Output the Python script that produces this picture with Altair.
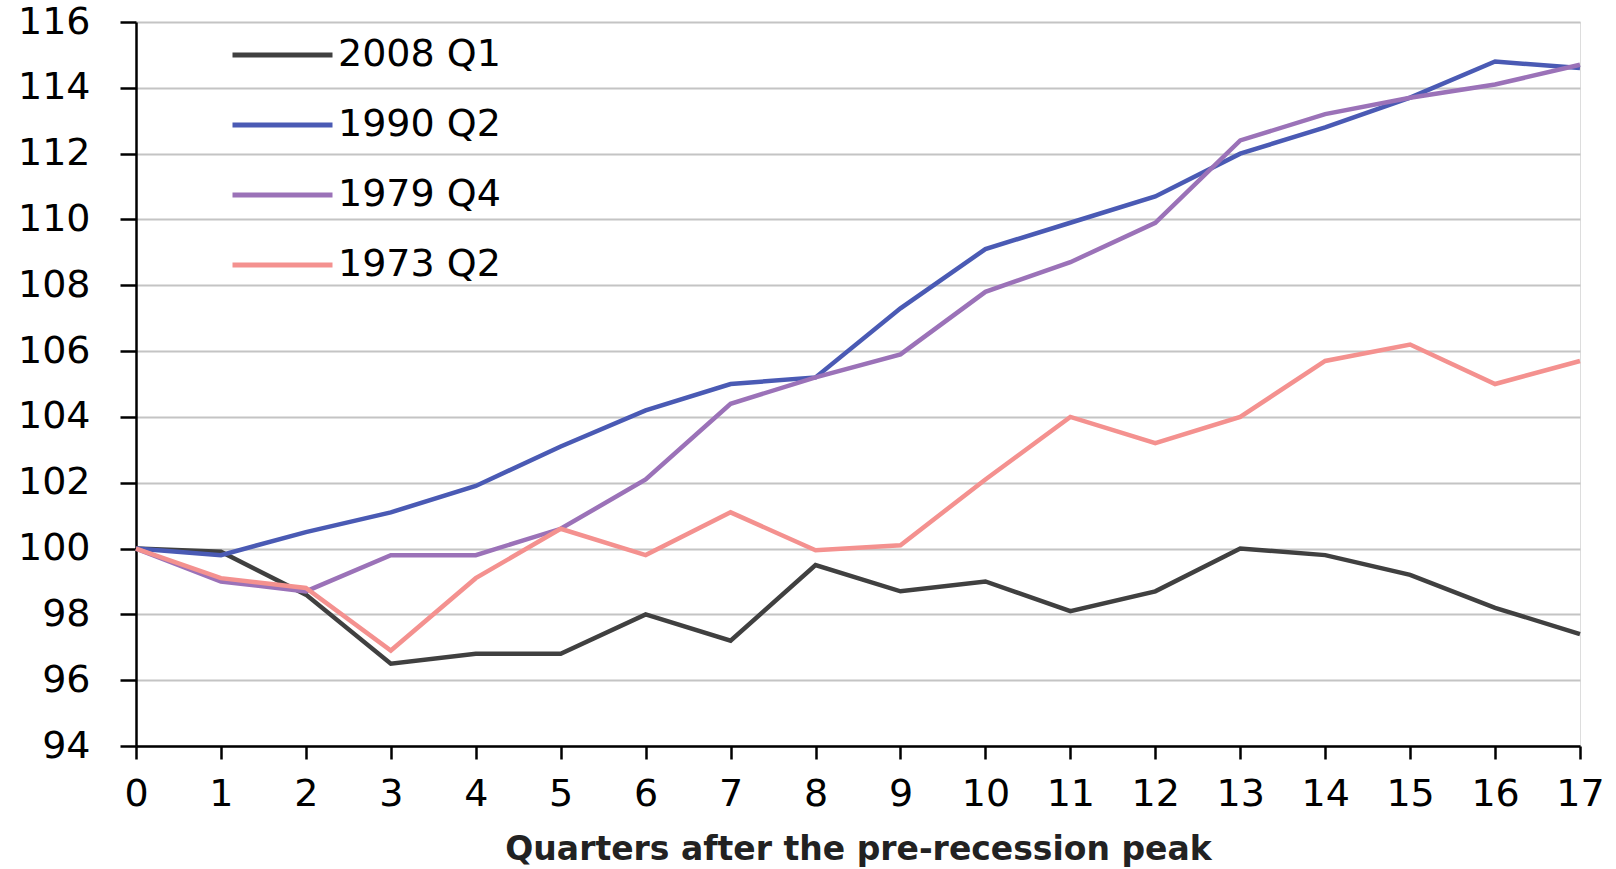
import altair as alt
import pandas as pd

# Index levels (pre-recession peak = 100) for each recession, by quarter
quarters = list(range(18))
series_names = ["2008 Q1", "1990 Q2", "1979 Q4", "1973 Q2"]
series_colors = ["#404040", "#4a5ab4", "#9b72b8", "#f4918f"]

rec_2008 = [100.0, 99.9, 98.6, 96.5, 96.8, 96.8, 98.0, 97.2, 99.5, 98.7,
            99.0, 98.1, 98.7, 100.0, 99.8, 99.2, 98.2, 97.4]
rec_1990 = [100.0, 99.8, 100.5, 101.1, 101.9, 103.1, 104.2, 105.0, 105.2, 107.3,
            109.1, 109.9, 110.7, 112.0, 112.8, 113.7, 114.8, 114.6]
rec_1979 = [100.0, 99.0, 98.7, 99.8, 99.8, 100.6, 102.1, 104.4, 105.2, 105.9,
            107.8, 108.7, 109.9, 112.4, 113.2, 113.7, 114.1, 114.7]
rec_1973 = [100.0, 99.1, 98.8, 96.9, 99.1, 100.6, 99.8, 101.1, 99.95, 100.1,
            102.1, 104.0, 103.2, 104.0, 105.7, 106.2, 105.0, 105.7]

y_ticks = list(range(94, 117, 2))

rows = []
for name, vals in zip(series_names, [rec_2008, rec_1990, rec_1979, rec_1973]):
    for q, v in zip(quarters, vals):
        rows.append({"quarter": q, "value": v, "series": name})
df = pd.DataFrame(rows)

FONT = "DejaVu Sans"

chart = (
    alt.Chart(df)
    .mark_line(strokeWidth=4.5)
    .encode(
        x=alt.X(
            "quarter:Q",
            scale=alt.Scale(domain=[0, 17], nice=False, zero=False),
            axis=alt.Axis(
                title="Quarters after the pre-recession peak",
                values=quarters,
                format="d",
                grid=False,
                tickSize=13,
                tickWidth=2.5,
                tickColor="#000000",
                domainColor="#000000",
                domainWidth=2.5,
                labelFont=FONT,
                labelFontSize=38,
                labelColor="#000000",
                labelPadding=16,
                labelFlush=False,
                titleFont=FONT,
                titleFontSize=33,
                titleFontWeight="bold",
                titleColor="#222222",
                titlePadding=20,
            ),
        ),
        y=alt.Y(
            "value:Q",
            scale=alt.Scale(domain=[94, 116], nice=False, zero=False),
            axis=alt.Axis(
                title=None,
                values=y_ticks,
                grid=True,
                gridColor="#c4c4c4",
                gridWidth=2,
                tickSize=16,
                tickWidth=2.5,
                tickColor="#000000",
                domainColor="#000000",
                domainWidth=2.5,
                labelFont=FONT,
                labelFontSize=38,
                labelColor="#000000",
                labelPadding=30,
            ),
        ),
        color=alt.Color(
            "series:N",
            scale=alt.Scale(domain=series_names, range=series_colors),
            sort=series_names,
            legend=alt.Legend(
                title=None,
                orient="none",
                legendX=94,
                legendY=-2,
                symbolType="stroke",
                symbolSize=10000,
                symbolStrokeWidth=5,
                clipHeight=70,
                rowPadding=0,
                padding=0,
                labelFont=FONT,
                labelFontSize=38,
                labelColor="#000000",
                labelOffset=3,
                labelLimit=400,
            ),
        ),
        order=alt.Order("quarter:Q"),
    )
    .properties(
        width=1444,
        height=724,
        autosize=alt.AutoSizeParams(type="none"),
        padding={"left": 136, "top": 22, "right": 36, "bottom": 123},
    )
    .configure_view(stroke=None)
    .configure(background="#ffffff")
)

chart.save("out.html", embed_options={"renderer": "svg", "actions": False})
